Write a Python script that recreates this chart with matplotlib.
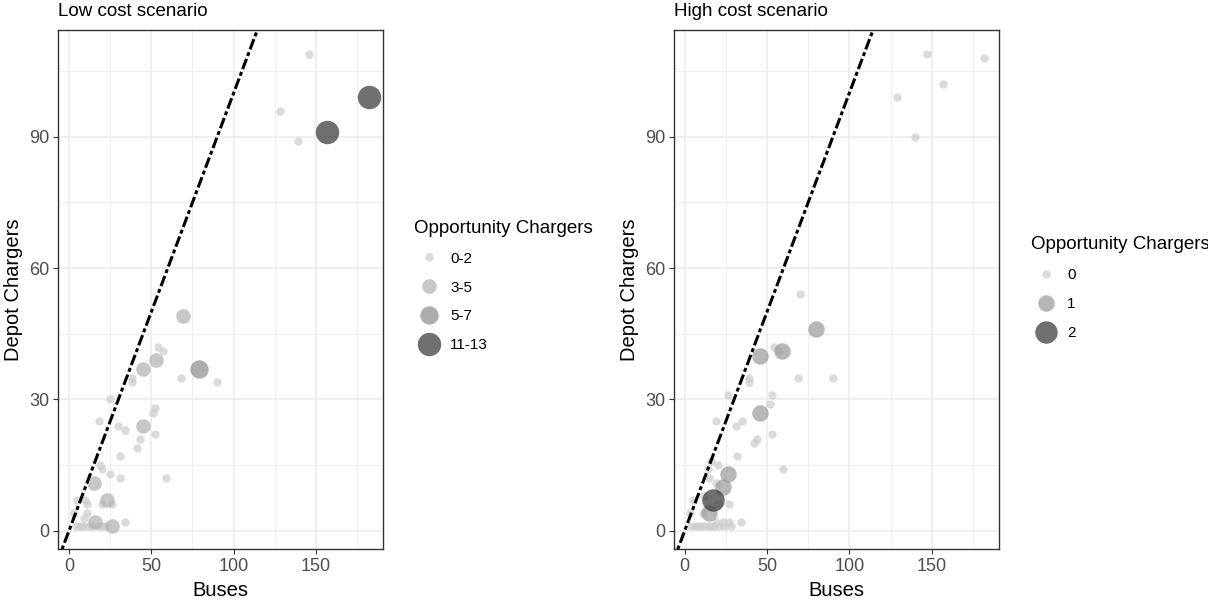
import numpy as np
import matplotlib
matplotlib.use('Agg')
import matplotlib.pyplot as plt
from matplotlib.lines import Line2D
from matplotlib.ticker import MultipleLocator


plt.rcParams['font.family'] = ['Liberation Sans', 'DejaVu Sans']


# =============================================================================
# data : buses, depot chargers, opportunity charger class (index into labels)
# =============================================================================

low_buses = [146, 128, 139, 157, 182,
             69, 54, 57, 53, 45, 79, 68, 90, 38, 38,
             25, 52, 51, 18, 30, 34, 45, 52, 43, 41,
             31, 19, 20, 25, 31, 59, 15,
             23, 20, 26, 5, 10, 11, 3, 11, 9,
             16, 26, 34,
             4, 6, 8, 10, 12, 14, 18, 20, 22]
low_depot = [109, 96, 89, 91, 99,
             49, 42, 41, 39, 37, 37, 35, 34, 35, 34,
             30, 28, 27, 25, 24, 23, 24, 22, 21, 19,
             17, 15, 14, 13, 12, 12, 11,
             7, 6, 6, 7, 7, 6, 4, 4, 3,
             2, 1, 2,
             1, 1, 1, 1, 1, 1, 1, 1, 1]
low_class = [0, 0, 0, 3, 3,
             1, 0, 0, 1, 1, 2, 0, 0, 0, 0,
             0, 0, 0, 0, 0, 0, 1, 0, 0, 0,
             0, 0, 0, 0, 0, 0, 1,
             1, 0, 0, 0, 0, 0, 0, 0, 0,
             1, 1, 0,
             0, 0, 0, 0, 0, 0, 0, 0, 0]
low_labels = ['0-2', '3-5', '5-7', '11-13']

high_buses = [147, 182, 157, 129, 140,
              70, 80, 46, 59, 54, 57, 39, 39, 69, 90,
              26, 53, 52, 46, 19, 31, 35, 53, 44, 42,
              32, 16, 20, 14, 60, 26, 23, 15, 19,
              17, 15, 20, 27, 5, 12, 3, 11,
              19, 23, 27, 34,
              4, 6, 8, 10, 12, 14, 16, 18, 21, 24, 28]
high_depot = [109, 108, 102, 99, 90,
              54, 46, 40, 41, 42, 41, 35, 34, 35, 35,
              31, 31, 29, 27, 25, 24, 25, 22, 21, 20,
              17, 16, 15, 14, 14, 13, 10, 12, 11,
              7, 4, 6, 6, 7, 8, 4, 4,
              2, 2, 2, 2,
              1, 1, 1, 1, 1, 1, 1, 1, 1, 1, 1]
high_class = [0, 0, 0, 0, 0,
              0, 1, 1, 1, 0, 0, 0, 0, 0, 0,
              0, 0, 0, 1, 0, 0, 0, 0, 0, 0,
              0, 0, 0, 0, 0, 1, 1, 0, 0,
              2, 1, 0, 0, 0, 0, 0, 0,
              0, 0, 0, 0,
              0, 0, 0, 0, 0, 0, 0, 0, 0, 0, 0]
high_labels = ['0', '1', '2']

# grey levels and point areas (pt^2) per class
low_colors = ['#cccccc', '#b0b0b0', '#8a8a8a', '#333333']
low_sizes = [36, 110, 175, 285]
high_colors = ['#cccccc', '#999999', '#333333']
high_sizes = [36, 140, 260]
alpha = 0.7


def panel(ax, buses, depot, cls, colors, sizes, labels, title, leg_xy):
    buses = np.asarray(buses)
    depot = np.asarray(depot)
    cls = np.asarray(cls)
    for k in range(len(labels)):
        m = cls == k
        ax.scatter(buses[m], depot[m], s=sizes[k], c=colors[k], alpha=alpha,
                   linewidths=0, zorder=3)

    # 1:1 line
    ax.axline((0, 0), slope=1, color='black', lw=2.2,
              dashes=(1.3, 1.0, 3.6, 1.0), dash_capstyle='butt', zorder=4)

    ax.set_xlim(-6.5, 190.9)
    ax.set_ylim(-4.25, 114.4)
    ax.xaxis.set_major_locator(MultipleLocator(50))
    ax.xaxis.set_minor_locator(MultipleLocator(25))
    ax.yaxis.set_major_locator(MultipleLocator(30))
    ax.yaxis.set_minor_locator(MultipleLocator(15))
    ax.grid(which='major', color='#ebebeb', lw=1.1, zorder=0)
    ax.grid(which='minor', color='#ebebeb', lw=0.6, zorder=0)
    ax.set_axisbelow(True)
    ax.tick_params(which='major', length=3.5, width=0.8, color='#333333',
                   labelsize=13, labelcolor='#4d4d4d', pad=3)
    ax.tick_params(which='minor', length=0)
    for sp in ax.spines.values():
        sp.set_color('#333333')
        sp.set_linewidth(1.0)

    ax.set_xlabel('Buses', fontsize=14.5, labelpad=4)
    ax.set_ylabel('Depot Chargers', fontsize=14.5, labelpad=4)
    ax.set_title(title, fontsize=13.5, loc='left', pad=10)

    handles = [Line2D([], [], ls='none', marker='o', markersize=np.sqrt(sizes[k]),
                      markerfacecolor=colors[k], markeredgewidth=0, alpha=alpha)
               for k in range(len(labels))]
    leg = ax.legend(handles, labels, title='Opportunity Chargers',
                    loc='center left', bbox_to_anchor=leg_xy,
                    bbox_transform=ax.figure.transFigure, frameon=False,
                    fontsize=11, title_fontsize=13.5, labelspacing=0.98,
                    handletextpad=0.35, borderaxespad=0)
    leg._legend_box.align = 'left'


fig = plt.figure(figsize=(12.08, 6), dpi=100)
ax1 = fig.add_axes([58.3 / 1208, 50.7 / 600, 325 / 1208, 519.3 / 600])
ax2 = fig.add_axes([674 / 1208, 50.7 / 600, 325 / 1208, 519.3 / 600])

panel(ax1, low_buses, low_depot, low_class, low_colors, low_sizes, low_labels,
      'Low cost scenario', (408 / 1208, 1 - 286 / 600))
panel(ax2, high_buses, high_depot, high_class, high_colors, high_sizes, high_labels,
      'High cost scenario', (1025 / 1208, 1 - 288 / 600))

fig.savefig('out.png', dpi=100)
